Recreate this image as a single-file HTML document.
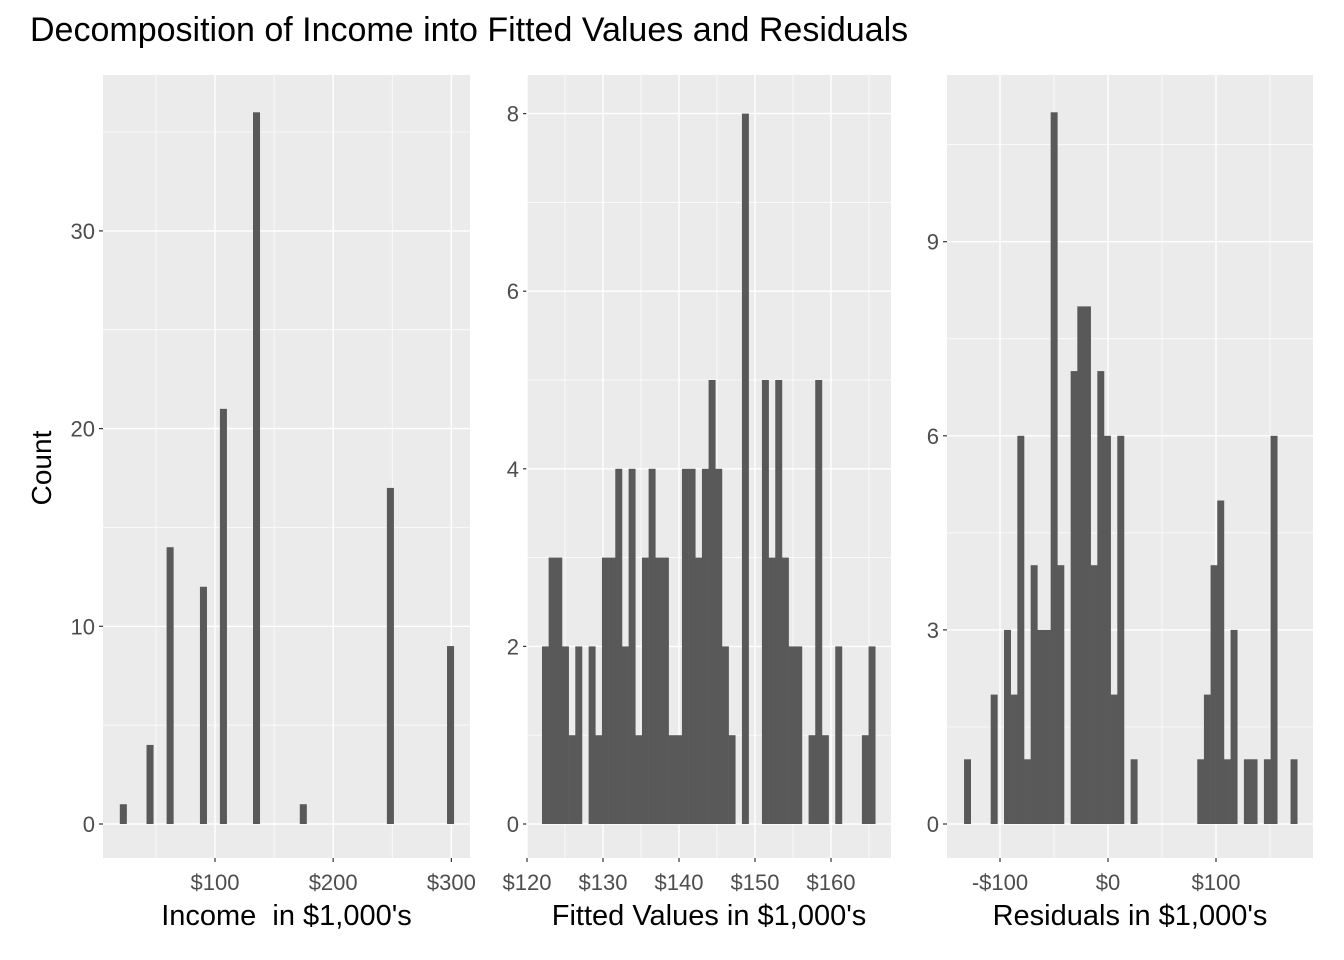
<!DOCTYPE html>
<html><head><meta charset="utf-8"><style>
html,body{margin:0;padding:0;background:#fff}
svg{display:block;font-family:"Liberation Sans",Arial,sans-serif}
</style></head><body>
<svg id="chart" width="1344" height="960" viewBox="0 0 1344 960" xmlns="http://www.w3.org/2000/svg">
<text x="30" y="41" font-size="34" fill="#000">Decomposition of Income into Fitted Values and Residuals</text>
<text transform="translate(51,468) rotate(-90)" text-anchor="middle" font-size="28" fill="#000">Count</text>
</svg>
<script>
// Panel 1: Income
const incomeCenters=[22.3,44.9,61.9,90.1,107,135,174.6,248.3,299.2];
const incomeCounts=[1,4,14,12,21,36,1,17,9];
const incomeBinWidth=5.7;
const incomeXTicks=[100,200,300];
const incomeXMinor=[50,150,250];
const incomeYTicks=[0,10,20,30];
const incomeYMinor=[5,15,25,35];
// Panel 2: Fitted
const fittedStart=121.97;
const fittedBinWidth=0.877;
const fittedCounts=[2,3,3,2,1,2,0,2,1,3,3,4,2,4,1,3,4,3,3,1,1,4,4,3,4,5,4,2,1,0,8,0,0,5,3,5,3,2,2,0,1,5,1,0,2,0,0,0,1,2];
const fittedXTicks=[120,130,140,150,160];
const fittedXMinor=[125,135,145,155,165];
const fittedYTicks=[0,2,4,6,8];
const fittedYMinor=[1,3,5,7];
// Panel 3: Residuals
const residStart=-133.3;
const residBinWidth=6.17;
const residCounts=[1,0,0,0,2,0,3,2,6,1,4,3,3,11,4,0,7,8,8,4,7,6,2,6,0,1,0,0,0,0,0,0,0,0,0,1,2,4,5,1,3,0,1,1,0,1,6,0,0,1];
const residXTicks=[-100,0,100];
const residXMinor=[-50,50,150];
const residYTicks=[0,3,6,9];
const residYMinor=[1.5,4.5,7.5,10.5];

const NS="http://www.w3.org/2000/svg";
const svgEl=document.getElementById('chart');
function mk(tag,attrs,parent){const e=document.createElementNS(NS,tag);for(const k in attrs)e.setAttribute(k,attrs[k]);(parent||svgEl).appendChild(e);return e;}
const plotTop=75,plotBottom=858;

function panel(cfg){
  const g=mk('g',{});
  
  
  const sx=v=>cfg.x0px+(v-cfg.x0v)*cfg.kx;
  const sy=v=>cfg.y0px-v*cfg.ky;
  const bg=mk('rect',{x:cfg.left,y:plotTop,width:cfg.right-cfg.left,height:plotBottom-plotTop,fill:'#ebebeb'},g);
  
  
  cfg.yMinor.forEach(v=>{const l=mk('line',{x1:cfg.left,x2:cfg.right,y1:sy(v),y2:sy(v),stroke:'#fff','stroke-width':0.7},g);});
  cfg.xMinor.forEach(v=>{const l=mk('line',{x1:sx(v),x2:sx(v),y1:plotTop,y2:plotBottom,stroke:'#fff','stroke-width':0.7},g);});
  cfg.yTicks.forEach(v=>{const l=mk('line',{x1:cfg.left,x2:cfg.right,y1:sy(v),y2:sy(v),stroke:'#fff','stroke-width':1.4},g);
    const t=mk('line',{x1:cfg.left-4,x2:cfg.left,y1:sy(v),y2:sy(v),stroke:'#333','stroke-width':1.2},g);
    const tx=mk('text',{x:cfg.left-8,y:sy(v)+8,'text-anchor':'end','font-size':22,fill:'#4d4d4d'},g);tx.textContent=String(v);});
  cfg.xTicks.forEach(v=>{const l=mk('line',{x1:sx(v),x2:sx(v),y1:plotTop,y2:plotBottom,stroke:'#fff','stroke-width':1.4},g);
    const t=mk('line',{x1:sx(v),x2:sx(v),y1:plotBottom,y2:plotBottom+4,stroke:'#333','stroke-width':1.2},g);
    const lab=(v<0?'-$':'$')+Math.abs(v);
    const tx=mk('text',{x:sx(v),y:plotBottom+32,'text-anchor':'middle','font-size':22,fill:'#4d4d4d'},g);tx.textContent=lab;});
  cfg.bars.forEach(b=>{if(b.c<=0)return;const x1=sx(b.l),x2=sx(b.l+cfg.bw);
    const r=mk('rect',{x:x1,y:sy(b.c),width:x2-x1+0.3,height:sy(0)-sy(b.c),fill:'#595959'},g);});
  const at=mk('text',{x:(cfg.left+cfg.right)/2,y:925,'text-anchor':'middle','font-size':29,fill:'#000'},g);
  at.setAttribute('xml:space','preserve');
  at.style.whiteSpace='pre';
  at.textContent=cfg.title;
}

panel({name:'income',left:103,right:470,x0v:100,x0px:215,kx:1.1817,y0px:824,ky:19.77,
  bw:incomeBinWidth,bars:incomeCenters.map((c,i)=>({l:c-incomeBinWidth/2,c:incomeCounts[i]})),
  xTicks:incomeXTicks,xMinor:incomeXMinor,yTicks:incomeYTicks,yMinor:incomeYMinor,title:"Income  in $1,000's"});
panel({name:'fitted',left:527,right:891,x0v:120,x0px:527,kx:7.6,y0px:824,ky:88.8,
  bw:fittedBinWidth,bars:fittedCounts.map((c,i)=>({l:fittedStart+i*fittedBinWidth,c:c})),
  xTicks:fittedXTicks,xMinor:fittedXMinor,yTicks:fittedYTicks,yMinor:fittedYMinor,title:"Fitted Values in $1,000's"});
panel({name:'residuals',left:947,right:1313,x0v:0,x0px:1108,kx:1.08,y0px:824,ky:64.7,
  bw:residBinWidth,bars:residCounts.map((c,i)=>({l:residStart+i*residBinWidth,c:c})),
  xTicks:residXTicks,xMinor:residXMinor,yTicks:residYTicks,yMinor:residYMinor,title:"Residuals in $1,000's"});
</script>
</body></html>
